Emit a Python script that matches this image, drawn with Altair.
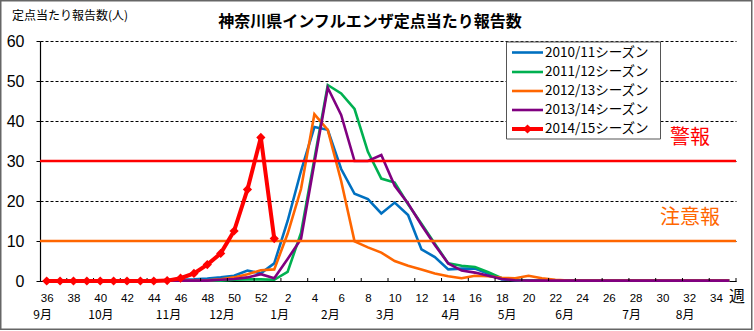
import altair as alt
import pandas as pd

# ---------------- data ----------------
weeks = [36, 37, 38, 39, 40, 41, 42, 43, 44, 45, 46, 47, 48, 49, 50, 51, 52,
         1, 2, 3, 4, 5, 6, 7, 8, 9, 10, 11, 12, 13, 14, 15, 16, 17, 18, 19, 20,
         21, 22, 23, 24, 25, 26, 27, 28, 29, 30, 31, 32, 33, 34, 35]

season_names = ["2010/11シーズン", "2011/12シーズン", "2012/13シーズン",
                "2013/14シーズン", "2014/15シーズン"]
season_colors = ["#0070C0", "#00B050", "#FF6600", "#800080", "#FF0000"]

s2010 = [0.1, 0.1, 0.1, 0.1, 0.1, 0.1, 0.1, 0.1, 0.2, 0.2, 0.3, 0.4, 0.6, 0.9, 1.3, 2.6, 1.9,
         4.4, 15.0, 27.5, 38.5, 37.8, 28.0, 21.8, 20.5, 16.9, 19.6, 16.5, 7.9, 6.0, 2.9, 3.1, 3.1,
         1.8, 0.4, 0.2, 0.1, 0.1, 0.1, 0.1, 0.1, 0.1, 0.1, 0.1, 0.1, 0.1, 0.1, 0.1, 0.1, 0.1, 0.1, 0.1]
s2011 = [0.1, 0.1, 0.1, 0.1, 0.1, 0.1, 0.1, 0.1, 0.1, 0.1, 0.1, 0.1, 0.1, 0.1, 0.3, 0.4, 0.4,
         0.3, 2.3, 12.0, 30.5, 49.0, 46.9, 43.0, 32.3, 25.6, 24.6, 19.2, 14.3, 9.3, 4.4, 3.8, 3.5,
         2.2, 0.7, 0.3, 0.1, 0.1, 0.1, 0.1, 0.1, 0.1, 0.1, 0.1, 0.1, 0.1, 0.1, 0.1, 0.1, 0.1, 0.1, 0.1]
s2012 = [0.1, 0.1, 0.1, 0.1, 0.1, 0.1, 0.1, 0.1, 0.1, 0.1, 0.1, 0.1, 0.2, 0.4, 0.9, 1.7, 2.7,
         2.9, 11.8, 23.0, 41.7, 37.8, 25.0, 9.9, 8.4, 7.1, 5.0, 3.8, 2.9, 1.9, 1.2, 0.7, 1.3,
         1.2, 0.8, 0.7, 1.3, 0.7, 0.3, 0.1, 0.1, 0.1, 0.1, 0.1, 0.1, 0.1, 0.1, 0.1, 0.1, 0.1, 0.1, 0.1]
s2013 = [0.1, 0.1, 0.1, 0.1, 0.1, 0.1, 0.1, 0.1, 0.1, 0.1, 0.1, 0.1, 0.1, 0.3, 0.5, 0.9, 1.7,
         0.7, 5.5, 10.5, 29.5, 48.3, 41.5, 30.0, 30.0, 31.5, 23.8, 19.4, 14.0, 9.0, 4.4, 2.6, 2.1,
         1.3, 0.5, 0.2, 0.1, 0.1, 0.1, 0.1, 0.1, 0.1, 0.1, 0.1, 0.1, 0.1, 0.1, 0.1, 0.1, 0.1, 0.1, 0.1]
s2014 = [0.0, 0.0, 0.0, 0.0, 0.0, 0.0, 0.0, 0.0, 0.0, 0.1, 0.7, 1.9, 4.1, 6.9, 12.5, 22.9, 35.9,
         10.6]

threshold_values = [30, 10]
threshold_labels = ["警報", "注意報"]
threshold_colors = ["#FF0000", "#FF6600"]

month_labels = ["9月", "10月", "11月", "12月", "1月", "2月", "3月", "4月", "5月", "6月", "7月", "8月"]
month_pos = [-0.3, 4.05, 9.1, 13.1, 17.4, 21.2, 25.3, 30.2, 34.4, 38.7, 43.7, 47.7]

title_text = "神奈川県インフルエンザ定点当たり報告数"
ytitle_text = "定点当たり報告数(人)"

# ---------------- tables ----------------
rows = []
for name, vals in zip(season_names, [s2010, s2011, s2012, s2013, s2014]):
    for i, v in enumerate(vals):
        rows.append({"season": name, "idx": i, "week": weeks[i], "value": v})
df = pd.DataFrame(rows)
df_old = df[df.season != season_names[4]]
df_new = df[df.season == season_names[4]]

thr_df = pd.DataFrame({"level": threshold_values, "label": threshold_labels,
                       "color": threshold_colors})
month_df = pd.DataFrame({"pos": month_pos, "label": month_labels})
tick_df = pd.DataFrame({"pos": [i + 0.5 for i in range(1, len(weeks), 2)]})

W, H = 696, 240
JP = "Noto Sans CJK JP"
NUM = "Liberation Sans"

xscale = alt.Scale(domain=[-0.5, len(weeks) - 0.5], nice=False, zero=False)
yscale = alt.Scale(domain=[0, 60], nice=False, zero=True)
cscale = alt.Scale(domain=season_names, range=season_colors)

x_axis = alt.Axis(values=list(range(0, len(weeks), 2)),
                  labelExpr="datum.value < 17 ? datum.value + 36 : datum.value - 16",
                  title=None, grid=False, ticks=False, tickSize=0, labelPadding=11,
                  labelFontSize=11.5, labelFont=NUM, labelColor="black",
                  domainColor="black", domainWidth=1.2)
y_axis = alt.Axis(values=[0, 10, 20, 30, 40, 50, 60], title=None, grid=True,
                  gridDash=[3, 2], gridColor="black", gridWidth=1, gridOpacity=1,
                  tickSize=4, tickColor="black", labelPadding=12, labelFontSize=16,
                  labelFont=NUM, labelColor="black", domainColor="black", domainWidth=1.2)


def X(field):
    return alt.X(field, scale=xscale, axis=x_axis)


def Y(field):
    return alt.Y(field, scale=yscale, axis=y_axis)


one = alt.Data(values=[{}])

lines_old = alt.Chart(df_old).mark_line(strokeWidth=2.6).encode(
    x=X("idx:Q"), y=Y("value:Q"),
    color=alt.Color("season:N", scale=cscale, legend=None),
)

thr_rules = alt.Chart(thr_df).mark_rule(strokeWidth=2.5).encode(
    y=Y("level:Q"),
    color=alt.Color("color:N", scale=None),
)
thr_text = alt.Chart(thr_df).mark_text(font=JP, fontSize=20, dy=-23, baseline="middle",
                                       align="center").encode(
    x=alt.value(650),
    y=Y("level:Q"),
    text="label:N",
    color=alt.Color("color:N", scale=None),
)

line_new = alt.Chart(df_new).mark_line(strokeWidth=4, color=season_colors[4]).encode(
    x=X("idx:Q"), y=Y("value:Q"),
)
pts_new = alt.Chart(df_new).mark_point(shape="diamond", filled=True, size=85, opacity=1,
                                       color=season_colors[4]).encode(
    x=X("idx:Q"), y=Y("value:Q"),
)

xticks = alt.Chart(tick_df).mark_rule(color="black", strokeWidth=1).encode(
    x=X("pos:Q"),
    y=alt.value(H), y2=alt.value(H - 3),
)

months = alt.Chart(month_df).mark_text(font=JP, fontSize=12, baseline="middle",
                                       align="center", color="black").encode(
    x=X("pos:Q"),
    y=alt.value(274),
    text="label:N",
)

week_unit = alt.Chart(one).mark_text(text="週", font=JP, fontSize=16, color="black",
                                     baseline="middle", align="center").encode(
    x=alt.value(697), y=alt.value(256))

title = alt.Chart(one).mark_text(text=title_text, font=JP, fontSize=16, fontWeight="bold",
                                 color="black", baseline="middle", align="center").encode(
    x=alt.value(330), y=alt.value(-19))

ytitle = alt.Chart(one).mark_text(text=ytitle_text, font=JP, fontSize=12, color="black",
                                  baseline="middle", align="left").encode(
    x=alt.value(-28), y=alt.value(-25))

# legend (manual)
legend_layers = [
    alt.Chart(one).mark_rect(fill="white", stroke="#555555", strokeWidth=1).encode(
        x=alt.value(466.5), x2=alt.value(620.5), y=alt.value(1), y2=alt.value(98))
]
row_y = [11.5, 31, 50, 69, 88]
for k, (name, col) in enumerate(zip(season_names, season_colors)):
    sw = 4 if k == 4 else 2.6
    legend_layers.append(
        alt.Chart(one).mark_rule(color=col, strokeWidth=sw).encode(
            x=alt.value(472), x2=alt.value(503), y=alt.value(row_y[k])))
    legend_layers.append(
        alt.Chart(one).mark_text(text=name, font=JP, fontSize=13.5, color="black",
                                 align="left", baseline="middle").encode(
            x=alt.value(505), y=alt.value(row_y[k])))
legend_layers.append(
    alt.Chart(one).mark_point(shape="diamond", filled=True, size=85, opacity=1,
                              color=season_colors[4]).encode(
        x=alt.value(487.5), y=alt.value(row_y[4])))

frame = alt.Chart(one).mark_rect(fillOpacity=0, stroke="#666666", strokeWidth=1.5).encode(
    x=alt.value(-39.25), x2=alt.value(711.75), y=alt.value(-40.25), y2=alt.value(288.25))

chart = alt.layer(
    lines_old, xticks, thr_rules, thr_text, line_new, pts_new, months, week_unit,
    title, ytitle, *legend_layers, frame
).properties(
    width=W, height=H,
    padding={"left": 40, "top": 41, "right": 18, "bottom": 50},
    autosize=alt.AutoSizeParams(type="none"),
    background="white",
).configure_view(stroke="transparent")

chart.save("out.html", embed_options={"renderer": "svg", "actions": False})
